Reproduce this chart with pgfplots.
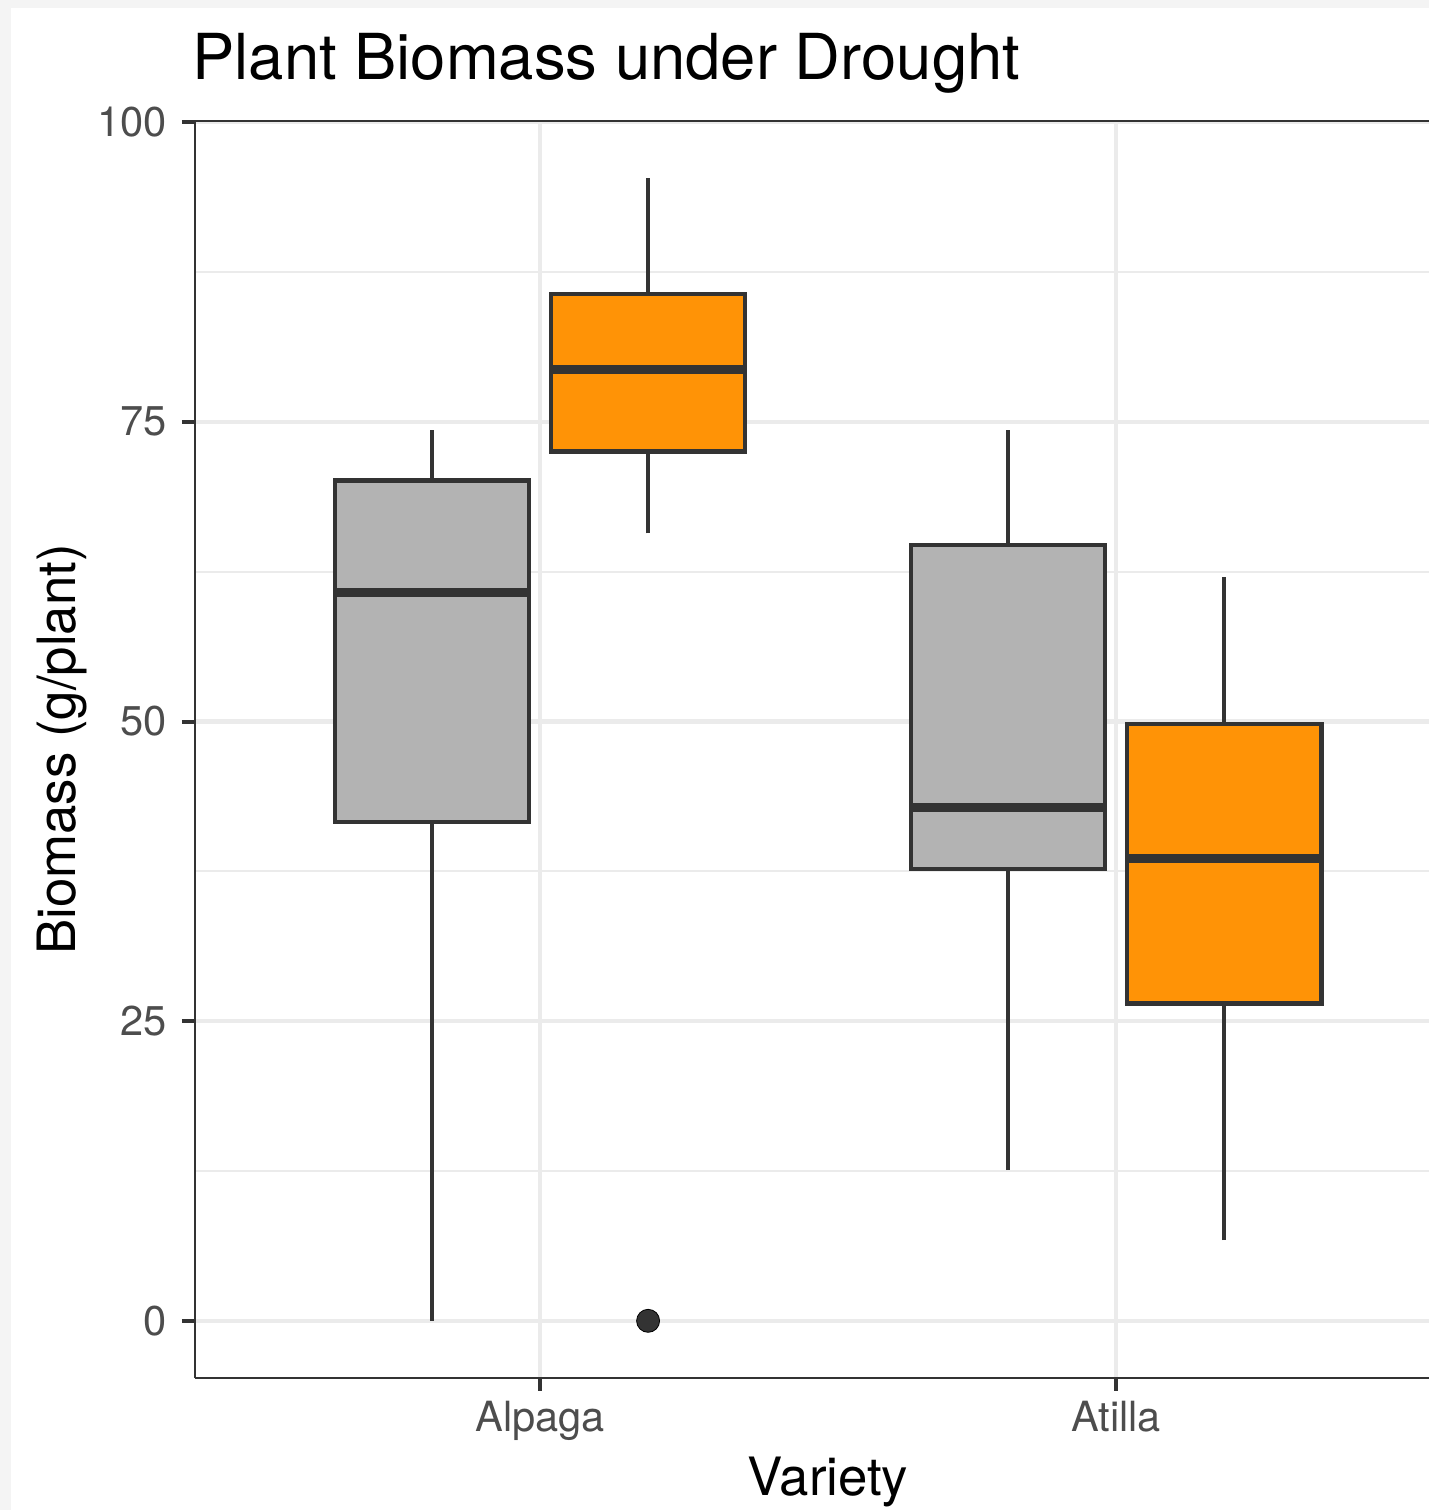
\documentclass[border=0pt]{standalone}
\usepackage{fontspec}
\setmainfont{TeX Gyre Heros}
\usepackage{pgfplots}
\pgfplotsset{compat=1.18}
\definecolor{c20}{HTML}{333333}
\definecolor{c30}{HTML}{4D4D4D}
\definecolor{grid92}{HTML}{EBEBEB}
\definecolor{boxgray}{HTML}{B3B3B3}
\definecolor{boxorange}{HTML}{FF9306}
\definecolor{bgstrip}{HTML}{F4F4F4}
\begin{document}
\begin{tikzpicture}
\fill[bgstrip] (-97.5pt,-66pt) rectangle (617pt,689pt);
\fill[white] (-92pt,-66pt) rectangle (617pt,685pt);
\begin{axis}[
  at={(0,0)}, anchor=south west,
  width=617pt, height=628.5pt, scale only axis,
  xmin=0.401, xmax=2.543, ymin=-4.77, ymax=100.1,
  axis y line*=left,
  tick pos=left,
  axis line style={line width=1.3pt, color=c20},
  tick align=outside,
  major tick length=6.5pt,
  minor tick length=0pt,
  tick style={line width=2pt, color=c20},
  xtick={1,2}, xticklabels={Alpaga,Atilla},
  ytick={0,25,50,75,100},
  minor ytick={12.5,37.5,62.5,87.5},
  xmajorgrids, ymajorgrids, yminorgrids,
  major grid style={line width=2.1pt, color=grid92},
  minor grid style={line width=1.05pt, color=grid92},
  /pgf/number format/assume math mode=true,
  ticklabel style={font=\fontsize{20.8pt}{24pt}\selectfont, text=c30, inner sep=0pt},
  yticklabel style={anchor=east, xshift=-7.5pt},
  xticklabel style={anchor=north, yshift=-5pt},
  title={Plant Biomass under Drought},
  title style={at={(axis description cs:-0.00243,1.0231)}, anchor=base west, inner sep=0pt, font=\fontsize{31.7pt}{36pt}\selectfont},
  xlabel={Variety},
  xlabel style={at={(axis description cs:0.513,-0.0931)}, anchor=base, inner sep=0pt, font=\fontsize{26.4pt}{30pt}\selectfont},
  ylabel={Biomass (g/plant)},
  ylabel style={at={(axis description cs:-0.0972,0.5)}, anchor=base, inner sep=0pt, font=\fontsize{26.4pt}{30pt}\selectfont},
  whisk/.style={draw=c20, line width=2pt, mark=none},
  box/.style={draw=c20, line width=2.1pt, mark=none, line join=miter},
  med/.style={draw=c20, line width=4.5pt, mark=none},
]
% ---------- Alpaga, grey: lw 0, q1 41.63, med 60.78, q3 70.11, uw 74.35
\addplot[whisk] coordinates {(0.8125,0) (0.8125,41.63)};
\addplot[whisk] coordinates {(0.8125,70.11) (0.8125,74.35)};
\addplot[box, fill=boxgray] coordinates {(0.64375,41.63) (0.98125,41.63) (0.98125,70.11) (0.64375,70.11)} -- cycle;
\addplot[med] coordinates {(0.64375,60.78) (0.98125,60.78)};
% ---------- Alpaga, orange: lw 65.70, q1 72.52, med 79.35, q3 85.68, uw 95.34, outlier 0
\addplot[whisk] coordinates {(1.1875,65.70) (1.1875,72.52)};
\addplot[whisk] coordinates {(1.1875,85.68) (1.1875,95.34)};
\addplot[box, fill=boxorange] coordinates {(1.01875,72.52) (1.35625,72.52) (1.35625,85.68) (1.01875,85.68)} -- cycle;
\addplot[med] coordinates {(1.01875,79.35) (1.35625,79.35)};
\addplot[only marks, mark=*, mark size=5.75pt, mark options={fill=c20, draw=none}] coordinates {(1.1875,0)};
% ---------- Atilla, grey: lw 12.57, q1 37.72, med 42.80, q3 64.70, uw 74.35
\addplot[whisk] coordinates {(1.8125,12.57) (1.8125,37.72)};
\addplot[whisk] coordinates {(1.8125,64.70) (1.8125,74.35)};
\addplot[box, fill=boxgray] coordinates {(1.64375,37.72) (1.98125,37.72) (1.98125,64.70) (1.64375,64.70)} -- cycle;
\addplot[med] coordinates {(1.64375,42.80) (1.98125,42.80)};
% ---------- Atilla, orange: lw 6.74, q1 26.48, med 38.55, q3 49.79, uw 62.03
\addplot[whisk] coordinates {(2.1875,6.74) (2.1875,26.48)};
\addplot[whisk] coordinates {(2.1875,49.79) (2.1875,62.03)};
\addplot[box, fill=boxorange] coordinates {(2.01875,26.48) (2.35625,26.48) (2.35625,49.79) (2.01875,49.79)} -- cycle;
\addplot[med] coordinates {(2.01875,38.55) (2.35625,38.55)};
\end{axis}
\end{tikzpicture}
\end{document}
